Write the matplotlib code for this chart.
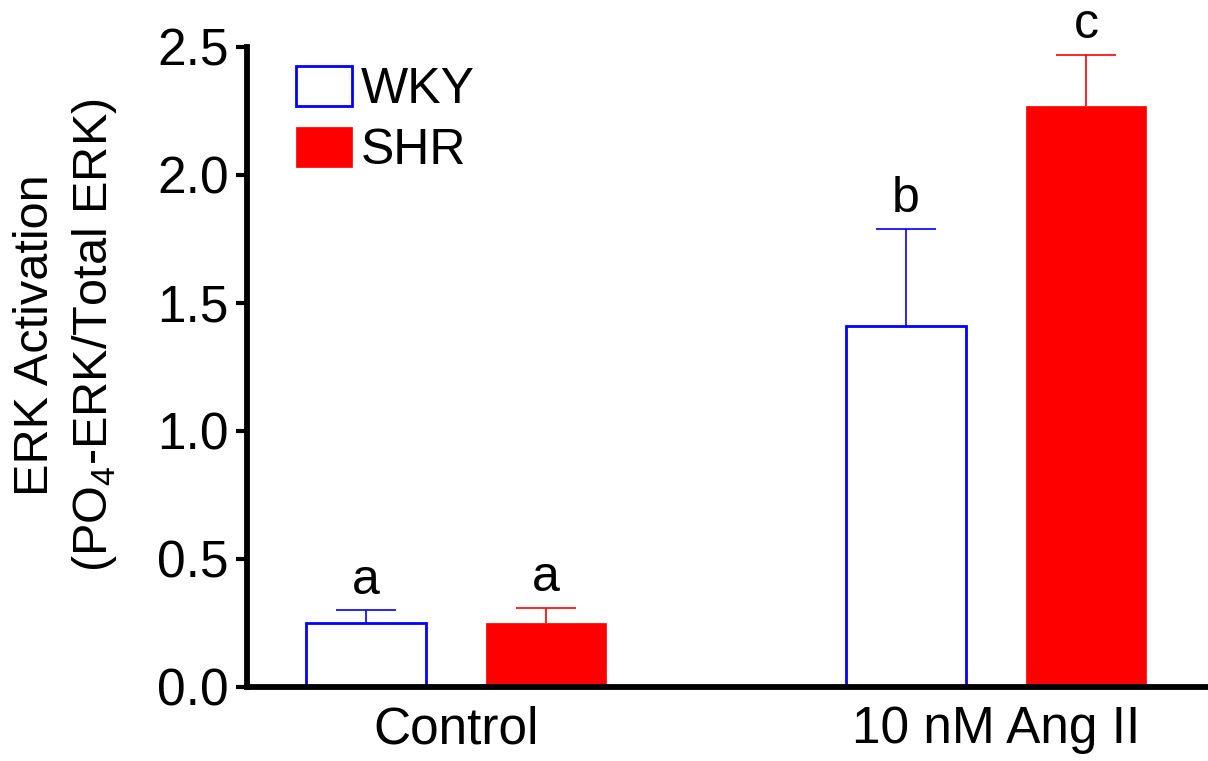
import matplotlib
matplotlib.use("Agg")
import numpy as np
import matplotlib.pyplot as plt

plt.rcParams["font.family"] = ["Liberation Sans", "DejaVu Sans"]
plt.rcParams["mathtext.fontset"] = "custom"
plt.rcParams["mathtext.rm"] = "Liberation Sans"

# --- Data ------------------------------------------------------------------
groups = ["Control", "10 nM Ang II"]
wky_mean = [0.25, 1.41]
wky_sem = [0.05, 0.38]
shr_mean = [0.25, 2.27]
shr_sem = [0.06, 0.20]
wky_letters = ["a", "b"]
shr_letters = ["a", "c"]

BLUE = "#0000ff"
RED = "#ff0000"

# --- Plot ------------------------------------------------------------------
fig = plt.figure(figsize=(12.08, 7.61), dpi=100)
ax = fig.add_axes([247 / 1208, 1 - 687 / 761, 960 / 1208, 640 / 761])

x = np.arange(len(groups))
width = 0.222
off = 0.1667

ax.bar(x - off, wky_mean, width, facecolor="white", edgecolor=BLUE,
       linewidth=2.0, label="WKY", zorder=2)
ax.bar(x + off, shr_mean, width, facecolor=RED, edgecolor=RED,
       linewidth=0.5, label="SHR", zorder=2)


def upper_errorbar(xs, means, sems, color):
    # one-sided (upward) SEM bars; hide the cap that sits on the bar top
    eb = ax.errorbar(xs, means, yerr=[np.zeros(len(xs)), sems], fmt="none",
                     ecolor=color, elinewidth=1.2, capsize=21.6,
                     capthick=1.2, zorder=1)
    eb[1][0].set_visible(False)


upper_errorbar(x - off, wky_mean, wky_sem, BLUE)
upper_errorbar(x + off, shr_mean, shr_sem, RED)

# significance letters above each error bar
for xi, m, s, t in zip(x - off, wky_mean, wky_sem, wky_letters):
    ax.annotate(t, (xi, m + s), xytext=(0, 12), textcoords="offset points",
                ha="center", va="baseline", fontsize=36)
for xi, m, s, t in zip(x + off, shr_mean, shr_sem, shr_letters):
    ax.annotate(t, (xi, m + s), xytext=(0, 12), textcoords="offset points",
                ha="center", va="baseline", fontsize=36)

ax.set_xlim(-0.387, 1.391)
ax.set_ylim(0, 2.5)
ax.set_yticks([0, 0.5, 1.0, 1.5, 2.0, 2.5])
ax.set_yticklabels(["0.0", "0.5", "1.0", "1.5", "2.0", "2.5"])
ax.set_xticks(x)
ax.set_xticklabels(groups)

for side in ["top", "right"]:
    ax.spines[side].set_visible(False)
for side in ["left", "bottom"]:
    ax.spines[side].set_linewidth(4.2)
ax.tick_params(axis="y", length=8, width=3, pad=5, labelsize=37)
ax.tick_params(axis="x", length=0, pad=13, labelsize=37)

fig.text(66 / 1208, 1 - 335 / 761,
         "ERK Activation\n(PO$_4$-ERK/Total ERK)",
         rotation=90, ha="center", va="center", multialignment="center",
         fontsize=35, linespacing=1.35)

ax.legend(loc="upper left", bbox_to_anchor=(0.051, (687 - 66) / 640),
          frameon=False, fontsize=36, handlelength=1.12, handleheight=0.86,
          handletextpad=0.18, labelspacing=0.27, borderpad=0, borderaxespad=0)

fig.savefig("out.png", dpi=100)
